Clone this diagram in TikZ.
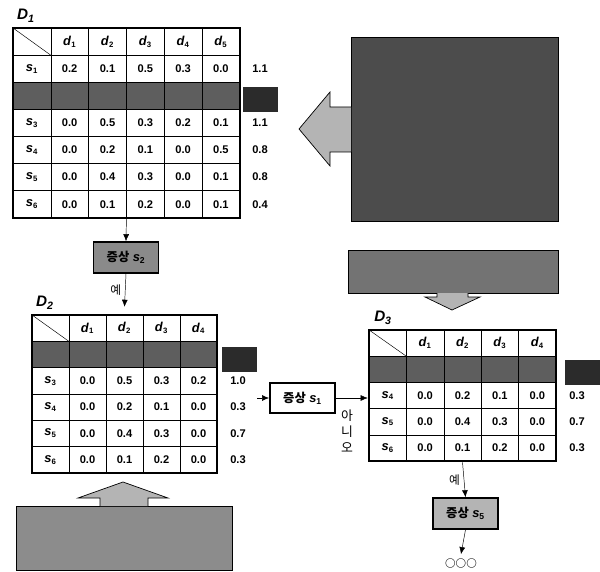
\documentclass[tikz,border=0pt]{standalone}
\usepackage{fontspec}
\setmainfont{Liberation Sans}
\newfontfamily\kr{Noto Sans CJK KR}
\usepackage{tikz}
\usetikzlibrary{arrows.meta,positioning,calc,fit}
\definecolor{inkdark}{HTML}{2B2B2B}
\definecolor{inkmid}{HTML}{5E5E5E}
\definecolor{inkgray}{HTML}{8A8A8A}
\definecolor{inklight}{HTML}{B4B4B4}
\newcommand{\vsub}[2]{{\fontsize{11}{12}\selectfont\textit{#1}}\textsubscript{#2}}

\begin{document}
\begin{tikzpicture}[x=0.03cm, y=-0.03cm, >={Latex[length=6pt,width=5pt]},
  every node/.style={font=\bfseries\fontsize{9.5}{11}\selectfont, align=center},
  cellA/.style={draw, minimum width=1.134cm, minimum height=0.813cm, inner sep=0pt},
  cellB/.style={draw, minimum width=1.11cm, minimum height=0.789cm, inner sep=0pt},
  cellC/.style={draw, minimum width=1.122cm, minimum height=0.786cm, inner sep=0pt},
  frame/.style={draw, line width=1.8pt, inner sep=0pt},
  sumbox/.style={fill=inkdark, minimum width=1.05cm, minimum height=0.75cm, inner sep=0pt},
  qbox/.style={draw, line width=1.6pt, minimum width=1.95cm, minimum height=0.92cm, inner sep=0pt, font=\bfseries\fontsize{10.5}{12}\selectfont},
  note/.style={draw, inner sep=0pt},
  blockarrow/.style={draw, fill=inklight, line width=0.6pt},
  tlabel/.style={font=\bfseries\itshape\fontsize{13}{14}\selectfont},
  krlabel/.style={font=\kr\fontsize{10}{12}\selectfont}]
  \useasboundingbox (0,0) rectangle (600,571);

  % D1
  \node[tlabel] (labA) at (26,16) {D\textsubscript{1}};
  \node[cellA] (A-0-0) at (31.9,41.6) {};
  \foreach \c in {1,...,5}
    \node[cellA] (A-0-\c) at ({31.9+37.8*\c},41.6) {\vsub{d}{\c}};
  \foreach \c in {0,...,5}
    \node[cellA, fill=inkmid] (A-2-\c) at ({31.9+37.8*\c},95.8) {};
  \node[sumbox] (sA-2) at (260.5,99.5) {};
  \foreach \r/\vals/\s in {1/{0.2,0.1,0.5,0.3,0.0}/1.1, 3/{0.0,0.5,0.3,0.2,0.1}/1.1,
      4/{0.0,0.2,0.1,0.0,0.5}/0.8, 5/{0.0,0.4,0.3,0.0,0.1}/0.8, 6/{0.0,0.1,0.2,0.0,0.1}/0.4} {
    \node[cellA] (A-\r-0) at (31.9,{41.6+27.1*\r}) {\vsub{s}{\r}};
    \foreach \v [count=\c] in \vals
      \node[cellA] (A-\r-\c) at ({31.9+37.8*\c},{41.6+27.1*\r}) {\v};
    \node (sA-\r) at (260,{41.6+27.1*\r}) {\s};
  }
  \node[frame, fit=(A-0-0)(A-6-5)] (tabA) {};
  \draw (A-0-0.north west) -- (A-0-0.south east);

  % hidden note with arrow into D1
  \node[note, fill=black!70, minimum width=6.21cm, minimum height=5.52cm] (noteA) at (454.5,129) {};
  \draw[blockarrow] (351,107) -- (330,107) -- (330,92) -- (299,129) -- (330,166) -- (330,152) -- (351,152);

  % first question
  \node[qbox, fill=inkgray] (q2) at (126,257.5) {{\kr 증상} \vsub{s}{2}};
  \draw[->] (tabA.south) -- (q2.north);

  % D2
  \node[tlabel] (labB) at (45,303) {D\textsubscript{2}};
  \node[cellB] (B-0-0) at (50.5,328.2) {};
  \foreach \c in {1,...,4}
    \node[cellB] (B-0-\c) at ({50.5+37*\c},328.2) {\vsub{d}{\c}};
  \foreach \c in {0,...,4}
    \node[cellB, fill=inkmid] (B-1-\c) at ({50.5+37*\c},354.5) {};
  \node[sumbox] (sB-1) at (239.5,359.5) {};
  \foreach \r/\k/\vals/\s in {2/3/{0.0,0.5,0.3,0.2}/1.0, 3/4/{0.0,0.2,0.1,0.0}/0.3,
      4/5/{0.0,0.4,0.3,0.0}/0.7, 5/6/{0.0,0.1,0.2,0.0}/0.3} {
    \node[cellB] (B-\r-0) at (50.5,{328.2+26.3*\r}) {\vsub{s}{\k}};
    \foreach \v [count=\c] in \vals
      \node[cellB] (B-\r-\c) at ({50.5+37*\c},{328.2+26.3*\r}) {\v};
    \node (sB-\r) at (238,{328.2+26.3*\r}) {\s};
  }
  \node[frame, fit=(B-0-0)(B-5-4)] (tabB) {};
  \draw (B-0-0.north west) -- (B-0-0.south east);
  \draw[->] (q2.south) -- node[left, krlabel] {예} ($(tabB.north)+(0,-7)$);

  % hidden note with arrow into D2
  \node[note, fill=black!45, minimum width=6.48cm, minimum height=1.92cm] (noteB) at (124,538) {};
  \draw[blockarrow] (100,506) -- (100,498) -- (78,498) -- (123,482) -- (168,498) -- (148,498) -- (148,506);

  % second question
  \node[qbox] (q1) at (302.5,398) {{\kr 증상} \vsub{s}{1}};
  \coordinate (inq1) at (257,398);
  \draw[->] (inq1) -- (q1.west);

  % D3
  \node[tlabel] (labC) at (383,318) {D\textsubscript{3}};
  \node[cellC] (C-0-0) at (387.7,343.1) {};
  \foreach \c in {1,...,4}
    \node[cellC] (C-0-\c) at ({387.7+37.4*\c},343.1) {\vsub{d}{\c}};
  \foreach \c in {0,...,4}
    \node[cellC, fill=inkmid] (C-1-\c) at ({387.7+37.4*\c},369.3) {};
  \node[sumbox] (sC-1) at (582,372.5) {};
  \foreach \r/\k/\vals/\s in {2/4/{0.0,0.2,0.1,0.0}/0.3, 3/5/{0.0,0.4,0.3,0.0}/0.7,
      4/6/{0.0,0.1,0.2,0.0}/0.3} {
    \node[cellC] (C-\r-0) at (387.7,{343.1+26.2*\r}) {\vsub{s}{\k}};
    \foreach \v [count=\c] in \vals
      \node[cellC] (C-\r-\c) at ({387.7+37.4*\c},{343.1+26.2*\r}) {\v};
    \node (sC-\r) at (577,{343.1+26.2*\r}) {\s};
  }
  \node[frame, fit=(C-0-0)(C-4-4)] (tabC) {};
  \draw (C-0-0.north west) -- (C-0-0.south east);
  \draw[->] (q1.east) -- (q1.east -| tabC.west);
  \node[krlabel, font=\kr\fontsize{11}{13.5}\selectfont] (no) at (347,431) {아\\니\\오};

  % hidden note with arrow into D3
  \node[note, fill=black!55, minimum width=6.3cm, minimum height=1.29cm] (noteC) at (453,271.5) {};
  \draw[blockarrow] (437,293) -- (437,297) -- (425,297) -- (452,310) -- (480,297) -- (468,297) -- (468,293);

  % third question
  \node[qbox, fill=inklight] (q5) at (465.5,513.5) {{\kr 증상} \vsub{s}{5}};
  \draw[->] (tabC.south) -- node[left, krlabel] {예} (q5.north);
  \node[font=\kr\bfseries\fontsize{9}{10}\selectfont] (dots) at (461,563) {○○○};
  \draw[->] (q5.south) -- (dots.north);
\end{tikzpicture}
\end{document}
